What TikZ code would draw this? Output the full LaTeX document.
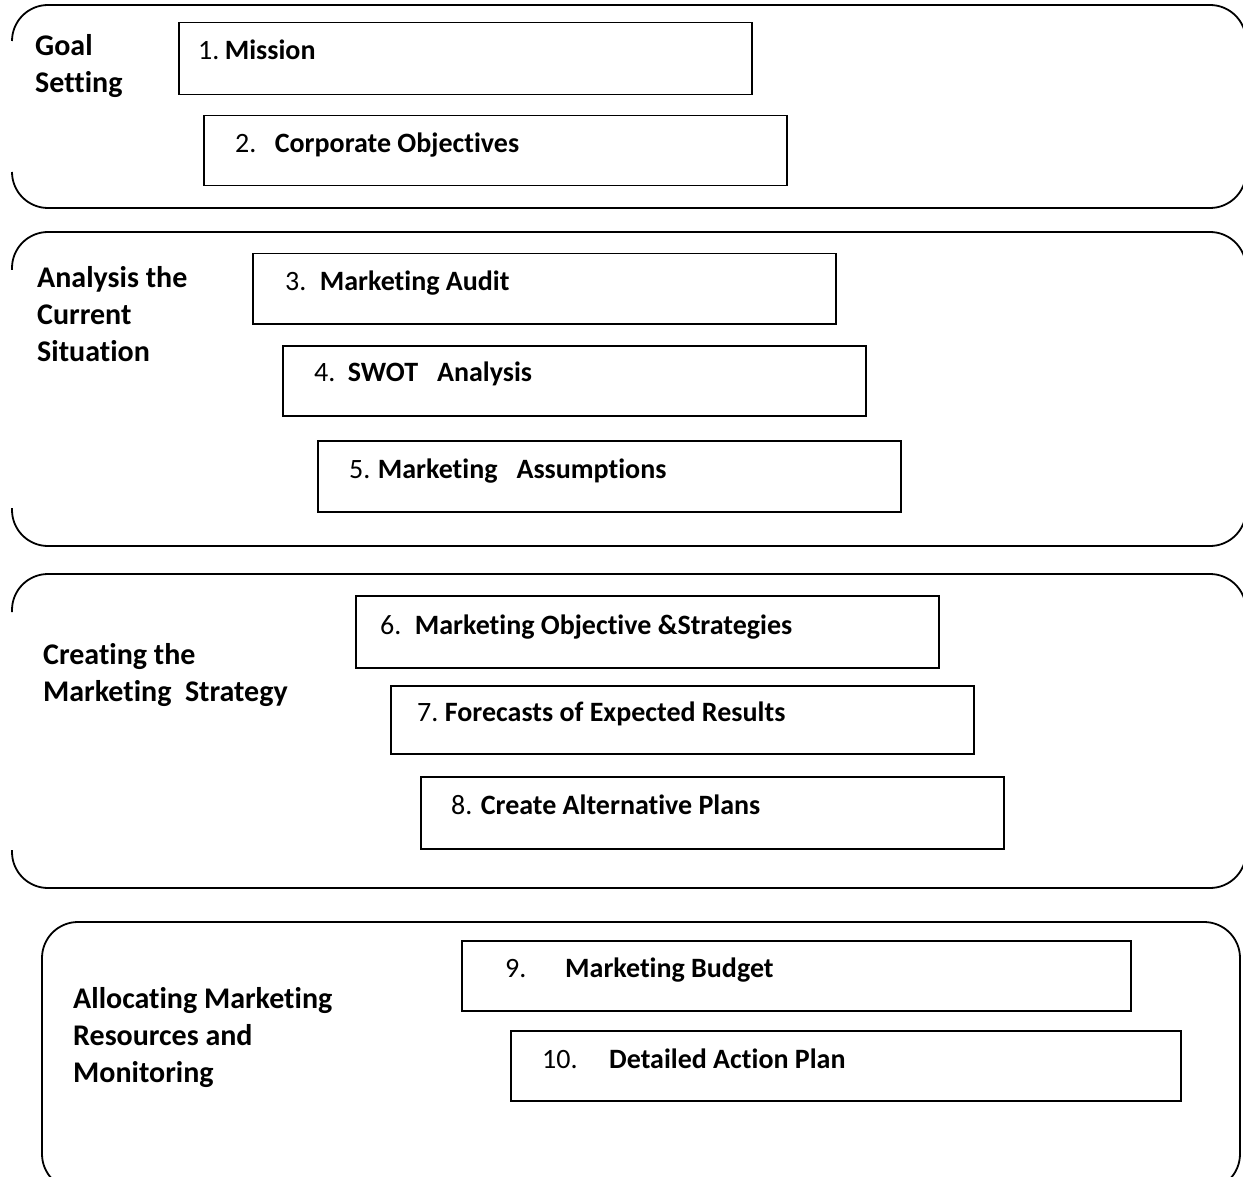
\documentclass[tikz,border=0pt]{standalone}
\usepackage{fontspec}
\setmainfont{Carlito}[Ligatures=NoCommon]
\usetikzlibrary{positioning}

\begin{document}
\begin{tikzpicture}[
	x=1pt,y=-1pt,
	stage/.style={line width=1.8pt,rounded corners=36pt},
	box/.style={
		draw,line width=1.5pt,
		anchor=north west,inner sep=0pt,
		minimum width=583pt,
		minimum height=71pt,
	},
	num/.style={anchor=base west,inner sep=0pt,font=\fontsize{28}{34}\selectfont},
	boxtext/.style={anchor=base west,inner sep=0pt,font=\fontsize{28}{34}\selectfont\bfseries},
	heading/.style={anchor=north west,align=left,inner sep=0pt,font=\fontsize{30}{37}\selectfont\bfseries},
]
\useasboundingbox (0,0) rectangle (1243,1177);

% the four stages
\draw[stage] (12,41) -- (12,5) -- (1246,5) -- (1246,208) -- (12,208) -- (12,172);
\draw[stage] (12,270) -- (12,232) -- (1246,232) -- (1246,546) -- (12,546) -- (12,508);
\draw[stage] (12,612) -- (12,574) -- (1246,574) -- (1246,888) -- (12,888) -- (12,850);
\draw[stage] (42,922) rectangle (1240,1190);

\node [heading] (goal) at (35,34) {Goal\\Setting};
\node [heading] (analysis) at (37,266) {Analysis the\\Current\\Situation};
\node [heading] (creating) at (43,643) {Creating the\\Marketing\ \ Strategy};
\node [heading] (allocating) at (73,987) {Allocating Marketing\\Resources and\\Monitoring};

% steps
\node [box,minimum width=573pt,minimum height=72pt] (mission) at (178,22) {};
\node [num] (n1) at ([xshift=20pt,yshift=-1pt]mission.west) {1.};
\node [boxtext] (t1) at ([xshift=5pt]n1.base east) {Mission};

\node [box,minimum height=70pt] (corp) at (203,115) {};
\node [num] (n2) at ([xshift=32pt,yshift=-2pt]corp.west) {2.};
\node [boxtext] (t2) at ([xshift=18pt]n2.base east) {Corporate Objectives};

\node [box,minimum height=70pt] (audit) at (252,253) {};
\node [num] (n3) at ([xshift=33pt,yshift=-2pt]audit.west) {3.};
\node [boxtext] (t3) at ([xshift=13pt]n3.base east) {Marketing Audit};

\node [box,minimum height=70pt] (swot) at (282,345) {};
\node [num] (n4) at ([xshift=32pt,yshift=-1pt]swot.west) {4.};
\node [boxtext] (t4) at ([xshift=12pt]n4.base east) {SWOT\ \ \ Analysis};

\node [box] (assume) at (317,440) {};
\node [num] (n5) at ([xshift=32pt,yshift=-2pt]assume.west) {5.};
\node [boxtext] (t5) at ([xshift=7pt]n5.base east) {Marketing\ \ \ Assumptions};

\node [box,minimum height=72pt] (objective) at (355,595) {};
\node [num] (n6) at ([xshift=25pt,yshift=-3pt]objective.west) {6.};
\node [boxtext] (t6) at ([xshift=13pt]n6.base east) {Marketing Objective \&Strategies};

\node [box,minimum height=68pt] (forecast) at (390,685) {};
\node [num] (n7) at ([xshift=27pt,yshift=-2pt]forecast.west) {7.};
\node [boxtext] (t7) at ([xshift=6pt]n7.base east) {Forecasts of Expected Results};

\node [box,minimum height=72pt] (altplans) at (420,776) {};
\node [num] (n8) at ([xshift=31pt,yshift=-2pt]altplans.west) {8.};
\node [boxtext] (t8) at ([xshift=8pt]n8.base east) {Create Alternative Plans};

\node [box,minimum width=669pt,minimum height=70pt] (budget) at (461,940) {};
\node [num] (n9) at ([xshift=44pt,yshift=-2pt]budget.west) {9.};
\node [boxtext] (t9) at ([xshift=104pt,yshift=-2pt]budget.west) {Marketing Budget};

\node [box,minimum width=670pt,minimum height=70pt] (action) at (510,1030) {};
\node [num] (n10) at ([xshift=32pt,yshift=-3pt]action.west) {10.};
\node [boxtext] (t10) at ([xshift=99pt,yshift=-3pt]action.west) {Detailed Action Plan};
\end{tikzpicture}
\end{document}
